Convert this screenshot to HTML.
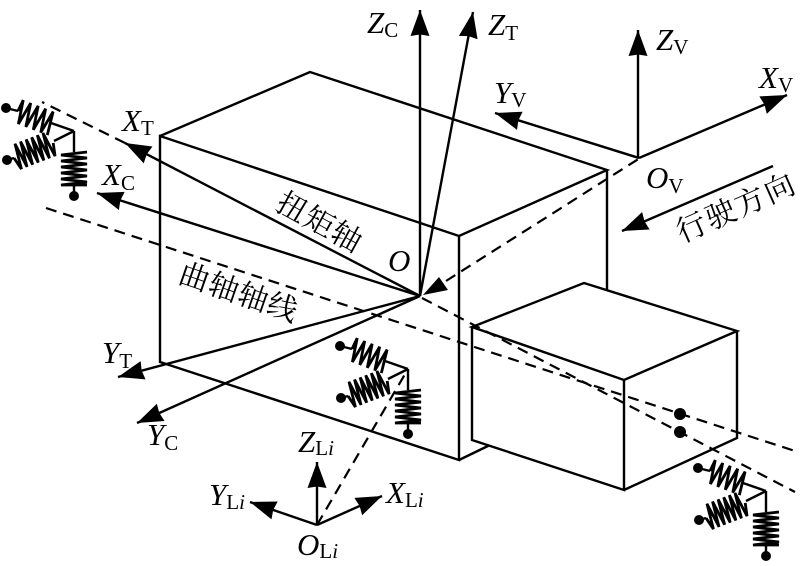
<!DOCTYPE html>
<html><head><meta charset="utf-8"><style>
html,body{margin:0;padding:0;background:#fff}
svg{display:block}
text{font-family:"Liberation Serif","Noto Serif CJK SC",serif;fill:#000;font-size:31px}
.i{font-style:italic}
.s{font-size:21px}
.c{font-size:30px}
</style></head><body>
<svg width="800" height="566" viewBox="0 0 800 566" xmlns="http://www.w3.org/2000/svg">
<defs>
<marker id="a" markerUnits="userSpaceOnUse" markerWidth="30" markerHeight="22" refX="26" refY="10" orient="auto"><path d="M0 0.5L26 10L0 19.5L1.5 10Z" fill="#000"/></marker>
<g id="susp" fill="none" stroke="#000" stroke-width="2.8">
<path d="M0 0V21M0 54V64M0 0L-23 -8M-56 -20L-68 -23M0 0L-20 10M-60 27L-67 29" stroke-width="2.4"/>
<circle cx="-68" cy="-23" r="5" fill="#000" stroke="none"/>
<circle cx="-67" cy="29" r="5" fill="#000" stroke="none"/>
<circle cx="0" cy="65" r="5" fill="#000" stroke="none"/>
<polyline points="13,21 -13,24 13,27 -13,30 13,33 -13,36 13,39 -13,42 13,45 -13,48 13,51 -13,54 13,54"/>
<polyline transform="translate(-56,-20) rotate(21)" points="0,0 1,-12 5,12 9,-12 13,12 17,-12 21,12 25,-12 29,12 33,-12 36,12"/>
<polyline transform="translate(-60,27) rotate(-21)" points="0,0 3,13 6,-13 9,13 12,-13 15,13 18,-13 21,13 24,-13 27,13 30,-13 33,13 36,-13 39,13 42,0"/>
</g>
</defs>

<g fill="none" stroke="#000" stroke-width="2.4">
<path d="M160 136L310 72L607 170L459 236L160 136V362L459 460V236M607 170V302M459 460L490 445"/>
<path fill="#fff" d="M472 327L584 283L737 331L624 380ZM472 327V440L624 490V380M624 490L737 438V331"/>
</g>

<g fill="none" stroke="#000" stroke-width="2.2" stroke-dasharray="11 7">
<path d="M125 143L42 102"/>
<path d="M422 298L795 492"/>
<path d="M46 208L795 451"/>
<path d="M446 281L640 158"/>
<path d="M317 525L408 369"/>
</g>

<polygon points="423,295 439,277 448,290" fill="#000"/>

<g fill="none" stroke="#000" stroke-width="2.4" marker-end="url(#a)">
<line x1="420" y1="296" x2="420" y2="10"/>
<line x1="420" y1="296" x2="473" y2="12"/>
<line x1="420" y1="296" x2="125" y2="143"/>
<line x1="420" y1="296" x2="97" y2="193"/>
<line x1="420" y1="296" x2="118" y2="377"/>
<line x1="420" y1="296" x2="137" y2="423"/>
<line x1="639" y1="158" x2="495" y2="113"/>
<line x1="638" y1="158" x2="638" y2="30"/>
<line x1="639" y1="158" x2="787" y2="95"/>
<line x1="773" y1="166" x2="622" y2="231"/>
<line x1="317" y1="525" x2="317" y2="462"/>
<line x1="317" y1="525" x2="250" y2="502"/>
<line x1="317" y1="525" x2="382" y2="496"/>
</g>

<circle cx="680" cy="414" r="6" fill="#000"/>
<circle cx="680" cy="432" r="6" fill="#000"/>

<use href="#susp" x="74" y="131"/>
<use href="#susp" x="408" y="369"/>
<use href="#susp" x="766" y="491"/>

<text x="367" y="33"><tspan class="i">Z</tspan><tspan class="s" dy="4">C</tspan></text>
<text x="488" y="35"><tspan class="i">Z</tspan><tspan class="s" dy="5">T</tspan></text>
<text x="656" y="50"><tspan class="i">Z</tspan><tspan class="s" dy="4">V</tspan></text>
<text x="494" y="103"><tspan class="i">Y</tspan><tspan class="s" dy="4">V</tspan></text>
<text x="759" y="88"><tspan class="i">X</tspan><tspan class="s" dy="4">V</tspan></text>
<text x="646" y="188"><tspan class="i">O</tspan><tspan class="s" dy="5">V</tspan></text>
<text x="122" y="131"><tspan class="i">X</tspan><tspan class="s" dy="4">T</tspan></text>
<text x="102" y="185"><tspan class="i">X</tspan><tspan class="s" dy="5">C</tspan></text>
<text x="102" y="363"><tspan class="i">Y</tspan><tspan class="s" dy="5">T</tspan></text>
<text x="147" y="445"><tspan class="i">Y</tspan><tspan class="s" dy="5">C</tspan></text>
<text x="388" y="271" class="i">O</text>
<text x="298" y="452"><tspan class="i">Z</tspan><tspan class="s" dy="3">L</tspan><tspan class="s i">i</tspan></text>
<text x="209" y="505"><tspan class="i">Y</tspan><tspan class="s" dy="4">L</tspan><tspan class="s i">i</tspan></text>
<text x="386" y="503"><tspan class="i">X</tspan><tspan class="s" dy="4">L</tspan><tspan class="s i">i</tspan></text>
<text x="297" y="555"><tspan class="i">O</tspan><tspan class="s" dy="3">L</tspan><tspan class="s i">i</tspan></text>

<text class="c" letter-spacing="1" transform="translate(274,209) rotate(28.6)">扭矩轴</text>
<text class="c" letter-spacing="1" transform="translate(177,282) rotate(19)">曲轴轴线</text>
<text class="c" letter-spacing="2" transform="translate(682,243) rotate(-24)">行驶方向</text>
</svg>
</body></html>
